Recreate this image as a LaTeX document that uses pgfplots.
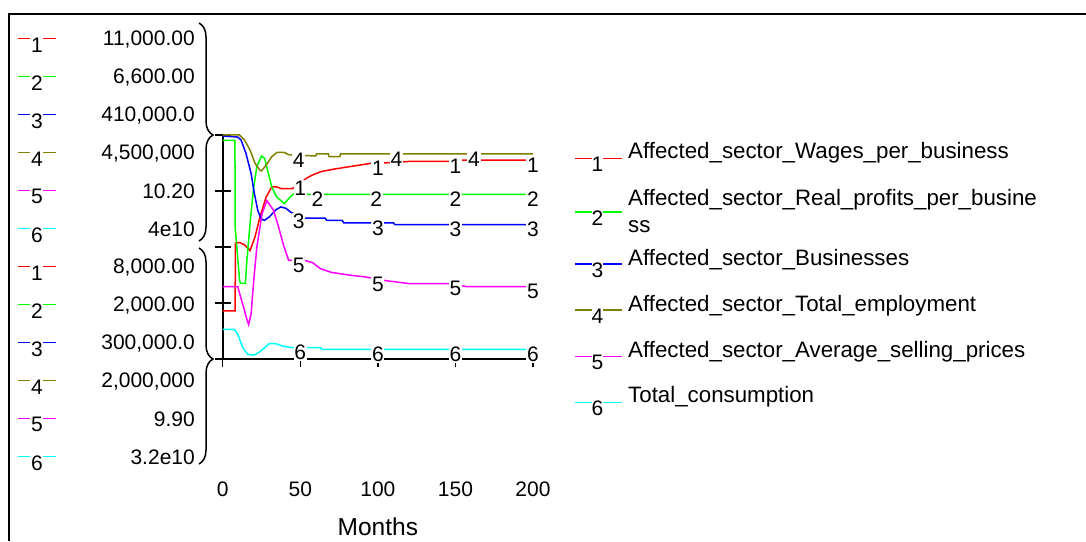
\documentclass[border=0pt]{standalone}
\usepackage{pgfplots}
\pgfplotsset{compat=1.18}
\usepackage{pgfplotstable}
\usepackage{fontspec}
\setmainfont{Liberation Sans}
\usetikzlibrary{decorations.pathreplacing}

\definecolor{sred}{RGB}{255,0,0}
\definecolor{sgreen}{RGB}{0,255,0}
\definecolor{sblue}{RGB}{0,0,255}
\definecolor{solive}{RGB}{128,128,0}
\definecolor{smag}{RGB}{255,0,255}
\definecolor{scyan}{RGB}{0,255,255}

\newcommand\lbl{\fontsize{21}{25}\selectfont}
\newcommand\leg{\fontsize{22.3}{27}\selectfont}

% 1: Affected_sector_Wages_per_business (8000 - 11000)
\pgfplotstableread{
m v
0 8645
8 8645
8.2 9551
11 9560
14 9530
17.6 9452
20.8 9632
24 9902
28 10169
31.6 10304
35 10304
37.6 10283
45 10283
50 10355
54 10421
58 10466
63.6 10511
72 10544
83 10580
96 10622
110 10631
120 10646
150 10646
155 10664
200 10664
}\sOne
% 2: Affected_sector_Real_profits_per_business (2000 - 6600)
\pgfplotstableread{
m v
0 6490
7.9 6490
8 4709
10.9 3610
11.5 3555
14.6 3555
15.6 4024
17.8 4847
20 5533
22 5947
25 6168
27 6122
29.5 5809
31.6 5533
34.8 5326
39.8 5192
43.4 5326
47 5420
51 5464
53 5381
200 5381
}\sTwo
% 3: Affected_sector_Businesses (300000 - 410000)
\pgfplotstableread{
m v
0 409500
9.7 409000
11.8 407580
15 400980
18.3 391080
20.4 381290
22.6 373040
24.7 368860
26.9 368090
30 369740
34.4 373370
37.6 374690
40.9 373920
43.7 372160
48 370500
53 369190
66 369190
67 368090
77 368090
78 366880
110 366880
111 366000
200 366000
}\sThree
% 4: Affected_sector_Total_employment (2000000 - 4500000)
\pgfplotstableread{
m v
0 4500000
10.8 4500000
14 4445000
17.6 4332500
20.9 4182500
24 4107500
25 4100000
28 4162500
31.6 4257500
35 4305000
39.8 4305000
42 4282500
45 4275000
50 4270000
60 4267500
60.6 4290000
68 4290000
68.5 4260000
75.5 4260000
76 4290000
200 4290000
}\sFour
% 5: Affected_sector_Average_selling_prices (9.90 - 10.20)
\pgfplotstableread{
m v
0 9.997
9.7 9.997
11 9.987
13.5 9.969
15.6 9.953
16.7 9.946
18.3 9.96
20 10.005
22 10.05
25.4 10.095
28.5 10.112
32.8 10.099
36 10.077
39 10.054
42.5 10.032
47 10.032
53 10.032
58 10.029
63 10.021
70 10.016
83 10.012
91.7 10.01
105 10.005
120 10.001
146 10.001
157 9.997
200 9.997
}\sFive
% 6: Total_consumption (3.2e10 - 4e10)
\pgfplotstableread{
m v
0 3.306e10
7.5 3.306e10
9.7 3.289e10
12.9 3.241e10
16.1 3.217e10
20.4 3.214e10
24.7 3.229e10
30 3.255e10
34 3.255e10
38.7 3.246e10
44 3.241e10
63 3.241e10
64 3.234e10
200 3.234e10
}\sSix

% curve label positions
\pgfplotstableread{
m v
50 10355
100 10625
150 10646
200 10664
}\lOne
\pgfplotstableread{
m v
61 5381
99 5381
150 5381
200 5381
}\lTwo
\pgfplotstableread{
m v
49 370300
100 366880
150 366000
200 366000
}\lThree
\pgfplotstableread{
m v
49 4272000
112 4290000
162 4290000
}\lFour
\pgfplotstableread{
m v
49 10.032
100 10.007
150 10.001
200 9.997
}\lFive
\pgfplotstableread{
m v
50 3.241e10
100 3.234e10
150 3.234e10
200 3.234e10
}\lSix

\begin{document}
\begin{tikzpicture}[x=1pt,y=1pt]
\path[use as bounding box] (0,0) rectangle (1086,541);
\draw[line width=2pt] (9,0) -- (9,527) -- (1090,527);

% left scale legend
\foreach \i/\c/\d/\val in {0/sred/1/{11,000.00},1/sgreen/2/{6,600.00},2/sblue/3/{410,000.0},3/solive/4/{4,500,000},4/smag/5/{10.20},5/scyan/6/{4e10},6/sred/1/{8,000.00},7/sgreen/2/{2,000.00},8/sblue/3/{300,000.0},9/solive/4/{2,000,000},10/smag/5/{9.90},11/scyan/6/{3.2e10}}{
  \pgfmathsetmacro\yy{541-38.3-38*\i}
  \draw[\c, line width=1.5pt] (18,\yy) -- (30,\yy);
  \draw[\c, line width=1.5pt] (43,\yy) -- (56,\yy);
  \node[font=\lbl, inner sep=0pt] at (37,\yy-6.5) {\d};
  \node[font=\lbl, inner sep=0pt, anchor=east] at (195,\yy-1) {\val};
}

% braces
\draw[decorate, decoration={brace, amplitude=14pt, aspect=0.514}, line width=1.5pt] (199,518) -- (199,300);
\draw[decorate, decoration={brace, amplitude=14pt, aspect=0.514}, line width=1.5pt] (199,293) -- (199,77);

% right legend
\foreach \dy/\ty/\c/\d/\t in {158.3/153/sred/1/{Affected\_sector\_Wages\_per\_business},264/260/sblue/3/{Affected\_sector\_Businesses},310/305.6/solive/4/{Affected\_sector\_Total\_employment},356.7/351.7/smag/5/{Affected\_sector\_Average\_selling\_prices},402.7/396.7/scyan/6/{Total\_consumption}}{
  \draw[\c, line width=1.5pt] (575,541-\dy) -- (592,541-\dy);
  \draw[\c, line width=1.5pt] (603,541-\dy) -- (622,541-\dy);
  \node[font=\lbl, inner sep=0pt] at (597.5,541-\dy-6) {\d};
  \node[font=\leg, inner sep=0pt, anchor=west] at (628,541-\ty) {\t};
}
\draw[sgreen, line width=1.5pt] (575,541-212) -- (592,541-212);
\draw[sgreen, line width=1.5pt] (603,541-212) -- (622,541-212);
\node[font=\lbl, inner sep=0pt] at (597.5,541-218.5) {2};
\node[font=\leg, inner sep=0pt, anchor=west] at (628,541-200) {Affected\_sector\_Real\_profits\_per\_busine};
\node[font=\leg, inner sep=0pt, anchor=west] at (628,541-227) {ss};

\begin{axis}[
  at={(222.7pt,182pt)}, anchor=south west,
  scale only axis, width=310.3pt, height=224pt,
  xmin=0, xmax=200, ymin=0, ymax=1,
  axis x line*=bottom, axis y line*=left,
  axis line style={-, line width=1.8pt, black},
  xtick={0,50,100,150,200}, xticklabels={0,50,100,150,200},
  ytick={0,0.25,0.5,0.75,1}, yticklabels={},
  tick align=center, major tick length=16pt,
  tick style={line width=1.5pt, black},
  xticklabel style={font=\lbl, anchor=center, yshift=-122pt},
  xlabel={Months},
  xlabel style={font=\fontsize{24.5}{28}\selectfont, at={(axis description cs:0.5,0)}, anchor=center, yshift=-168pt},
  clip=false,
]
\addplot[sred, line width=1.5pt] table[x=m, y expr={(\thisrow{v}-8000)/3000}] {\sOne};
\addplot[sgreen, line width=1.5pt] table[x=m, y expr={(\thisrow{v}-2000)/4600}] {\sTwo};
\addplot[sblue, line width=1.5pt] table[x=m, y expr={(\thisrow{v}-300000)/110000}] {\sThree};
\addplot[solive, line width=1.5pt] table[x=m, y expr={(\thisrow{v}-2000000)/2500000}] {\sFour};
\addplot[smag, line width=1.5pt] table[x=m, y expr={(\thisrow{v}-9.9)/0.3}] {\sFive};
\addplot[scyan, line width=1.5pt] table[x=m, y expr={(\thisrow{v}-3.2e10)/0.8e10}] {\sSix};

\pgfplotsset{lblstyle/.style={only marks, mark=text, text mark as node=true, text mark style={font=\lbl, fill=white, inner sep=0.8pt, yshift=-5pt, text=black}}}
\addplot[lblstyle, text mark={1}] table[x=m, y expr={(\thisrow{v}-8000)/3000}] {\lOne};
\addplot[lblstyle, text mark={2}] table[x=m, y expr={(\thisrow{v}-2000)/4600}] {\lTwo};
\addplot[lblstyle, text mark={3}] table[x=m, y expr={(\thisrow{v}-300000)/110000}] {\lThree};
\addplot[lblstyle, text mark={4}] table[x=m, y expr={(\thisrow{v}-2000000)/2500000}] {\lFour};
\addplot[lblstyle, text mark={5}] table[x=m, y expr={(\thisrow{v}-9.9)/0.3}] {\lFive};
\addplot[lblstyle, text mark={6}] table[x=m, y expr={(\thisrow{v}-3.2e10)/0.8e10}] {\lSix};
\end{axis}
\end{tikzpicture}
\end{document}
